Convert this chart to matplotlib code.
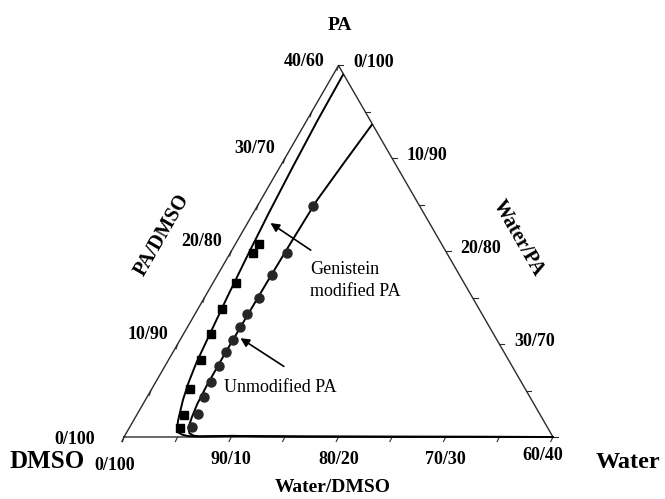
import numpy as np
import matplotlib.pyplot as plt

plt.rcParams['font.family'] = ['Liberation Serif', 'DejaVu Serif']

# a = Water %, b = PA % (rest DMSO); the diagram only shows 0..40 %
ticks = [0, 5, 10, 15, 20, 25, 30, 35, 40]
bottom_vals = [0, 10, 20, 30, 40]
bottom_labels = ['0/100', '90/10', '80/20', '70/30', '60/40']
left_vals = [0, 10, 20, 30, 40]
left_labels = ['0/100', '10/90', '20/80', '30/70', '40/60']
right_vals = [0, 10, 20, 30]
right_labels = ['0/100', '10/90', '20/80', '30/70']

# Genistein modified PA: measured points and binodal curve
gen_a = [2.18, 2.11, 2.14, 2.24, 2.56, 3.03, 3.56, 4.41, 4.74]
gen_b = [20.8, 19.8, 16.6, 13.8, 11.1, 8.3, 5.2, 2.4, 1.0]
gen_curve_a = [0.92, 1.0, 1.2, 1.45, 1.75, 2.1, 2.45, 2.75, 3.1, 3.5, 3.85, 4.15,
               4.45, 4.8, 5.3, 5.9, 6.6, 8.0, 10.0, 13.0, 17.0, 25.0, 33.0, 40.0]
gen_curve_b = [39.0, 34.2, 29.0, 24.0, 19.5, 15.0, 11.2, 8.0, 5.8, 4.0, 2.8, 1.8,
               1.0, 0.5, 0.25, 0.1, 0.05, 0.08, 0.12, 0.08, 0.05, 0.03, 0.02, 0.0]

# Unmodified PA
un_a = [5.17, 5.28, 5.12, 5.09, 4.89, 4.94, 4.99, 4.98, 5.08, 5.15, 5.30, 5.66, 5.80]
un_b = [24.9, 19.8, 17.4, 15.0, 13.2, 11.8, 10.4, 9.1, 7.6, 5.9, 4.3, 2.5, 1.1]
un_curve_a = [6.3, 5.75, 5.25, 5.1, 5.0, 4.95, 4.92, 4.95, 5.05, 5.25, 5.5, 5.9,
              6.4, 7.0, 8.5, 10.0, 13.0, 17.0, 25.0, 33.0, 40.0]
un_curve_b = [33.6, 29.5, 25.5, 21.0, 16.5, 12.5, 8.5, 5.5, 3.6, 2.2, 1.0, 0.4,
              0.15, 0.06, 0.08, 0.12, 0.08, 0.05, 0.03, 0.02, 0.0]


def tern(a, b):
    a = np.asarray(a, dtype=float)
    b = np.asarray(b, dtype=float)
    return a + b / 2, b * np.sqrt(3) / 2


W, H = 665, 499
S = 10.725  # pixels per unit
X0, Y0 = 124, 437
fig = plt.figure(figsize=(W / 100, H / 100), dpi=100)
ax = fig.add_axes([0, 0, 1, 1])
ax.set_xlim(-X0 / S, (W - X0) / S)
ax.set_ylim(-(H - Y0) / S, Y0 / S)
ax.axis('off')

edge = '#2b2b2b'
# triangle edges
ex, ey = tern([0, 40, 0, 0], [0, 0, 40, 0])
ax.plot(ex, ey, color=edge, lw=1.0)

# ticks
tl = 5 / S
for t in ticks:
    x, y = tern(t, 0)
    ax.plot([x, x - 0.45 * tl], [y, y - 0.9 * tl], color=edge, lw=0.8)
    x, y = tern(0, t)
    ax.plot([x, x - 0.3 * tl], [y, y - 0.95 * tl], color=edge, lw=0.8)
    x, y = tern(t, 40 - t)
    ax.plot([x, x + tl], [y, y], color=edge, lw=0.8)

lab = dict(fontsize=13, fontweight='bold', ha='center', va='center')
for i, (v, s) in enumerate(zip(bottom_vals, bottom_labels)):
    off = (0, -22)
    if i == 0:
        off = (-9, -28)
    elif i == len(bottom_vals) - 1:
        off = (-10, -18)
    ax.annotate(s, tern(v, 0), xytext=off, textcoords='offset pixels', **lab)
for i, (v, s) in enumerate(zip(left_vals, left_labels)):
    off = (-30, 10)
    if i == 0:
        off = (-49, -3)
    elif i == len(left_vals) - 1:
        off = (-34, 4)
    ax.annotate(s, tern(0, v), xytext=off, textcoords='offset pixels', **lab)
for v, s in zip(right_vals, right_labels):
    ax.annotate(s, tern(v, 40 - v), xytext=(35, 3), textcoords='offset pixels', **lab)

# curves and points
x, y = tern(gen_curve_a, gen_curve_b)
ax.plot(x, y, color='black', lw=1.4)
x, y = tern(un_curve_a, un_curve_b)
ax.plot(x, y, color='black', lw=1.4)
x, y = tern(gen_a, gen_b)
ax.plot(x, y, 's', color='black', ms=5.3, ls='none')
x, y = tern(un_a, un_b)
ax.plot(x, y, 'o', color='#262626', ms=6.5, ls='none')

# arrows
arr = dict(arrowstyle='-|>', color='black', lw=1.2, mutation_scale=13)
ax.annotate('', xy=tern(1.84, 23.2), xytext=tern(7.65, 19.95), arrowprops=arr)
ax.annotate('', xy=tern(5.24, 10.8), xytext=tern(11.4, 7.44), arrowprops=arr)


def ftext(x, y, s, **kw):
    fig.text(x / W, 1 - y / H, s, **kw)


ftext(310, 270, 'Genistein', fontsize=13, ha='left', va='center')
ftext(310, 291, 'modified PA', fontsize=13, ha='left', va='center')
ftext(224, 387, 'Unmodified PA', fontsize=13, ha='left', va='center')

title = dict(fontweight='bold', ha='center', va='center')
ftext(340, 25, 'PA', fontsize=14, **title)
ftext(162, 235, 'PA/DMSO', fontsize=14.5, rotation=60, **title)
ftext(518, 238, 'Water/PA', fontsize=14.5, rotation=-60, **title)
ftext(47, 462, 'DMSO', fontsize=18, **title)
ftext(628, 462, 'Water', fontsize=17.5, **title)
ftext(333, 488, 'Water/DMSO', fontsize=14, **title)

plt.savefig('out.png', dpi=100)
